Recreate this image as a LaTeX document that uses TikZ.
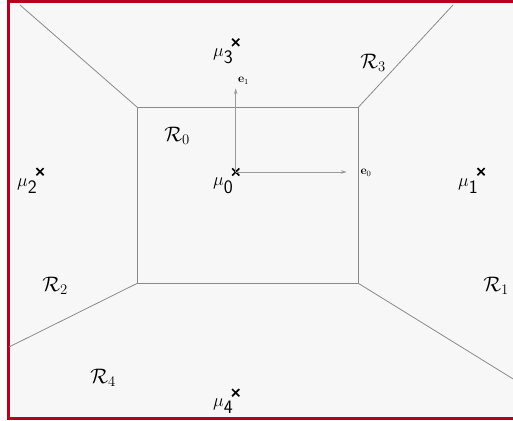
\documentclass[tikz,border=0pt]{standalone}
\usepackage{fix-cm}
\usepackage{amsmath}
\usepackage{amssymb}
\usepackage{tikz}
\usetikzlibrary{arrows.meta,positioning,shapes.misc}
\definecolor{vframe}{HTML}{B4001E}
\definecolor{vpaper}{HTML}{F7F7F7}
\definecolor{vline} {HTML}{8A8A8A}
\definecolor{vaxis} {HTML}{9A9A9A}
\newcommand{\mulab}[1]{$\mu$\kern0.3pt\raisebox{-7.5pt}{\fontsize{19}{20}\selectfont\textsf{#1}}}
\newcommand{\reglab}[1]{$\mathcal{R}_{#1}$}
\tikzset{
  vcell/.style={draw=vline, line width=0.8pt},
  vmark/.style={cross out, draw=black, line width=1.7pt, minimum size=5.5pt, inner sep=0pt},
  vmulabel/.style={font=\fontsize{18}{20}\selectfont, inner sep=0pt},
  vreglabel/.style={font=\fontsize{21}{24}\selectfont, inner sep=0pt},
  vaxisedge/.style={-{Stealth[length=6pt,width=3.5pt]}, draw=vaxis, line width=0.7pt},
  vaxislabel/.style={font=\fontsize{12}{13}\selectfont, inner sep=0pt},
}
\begin{document}
\begin{tikzpicture}[x=1pt,y=-1pt]
  \useasboundingbox (0,0) rectangle (513,420);
  \fill[vpaper] (8,1.5) rectangle (513,418.5);
  \draw[vframe,line width=3pt] (513,1.5) -- (8,1.5) -- (8,418.5) -- (513,418.5);

  % central cell and the four outer borders
  \coordinate (ctl) at (137.3,107.3);
  \coordinate (ctr) at (358.3,107.3);
  \coordinate (cbr) at (358.3,283.3);
  \coordinate (cbl) at (137.3,283.3);
  \coordinate (otl) at (20,5);
  \coordinate (otr) at (453,5);
  \coordinate (obr) at (514,379.5);
  \coordinate (obl) at (9,347);
  \draw[vcell] (ctl) -- (ctr) -- (cbr) -- (cbl) -- cycle;
  \draw[vcell] (ctl) -- (otl);
  \draw[vcell] (ctr) -- (otr);
  \draw[vcell] (cbr) -- (obr);
  \draw[vcell] (cbl) -- (obl);

  % centres
  \node[vmark] (m0) at (235.7,172) {};
  \node[vmark] (m1) at (481,171.7) {};
  \node[vmark] (m2) at (40,171.7) {};
  \node[vmark] (m3) at (235.7,42.3) {};
  \node[vmark] (m4) at (235.7,392.7) {};
  \node[vmulabel] at (223,186) {\mulab{0}};
  \node[vmulabel] at (468,186) {\mulab{1}};
  \node[vmulabel] at (27,186) {\mulab{2}};
  \node[vmulabel] at (223,56.5) {\mulab{3}};
  \node[vmulabel] at (223,406) {\mulab{4}};

  % basis vectors
  \coordinate (e0end) at (346.7,172);
  \coordinate (e1end) at (235.7,88.3);
  \draw[vaxisedge] (m0.center) -- (e0end);
  \draw[vaxisedge] (m0.center) -- (e1end);
  \node[vaxislabel] (e0) at (366,173) {$\mathbf{e}_0$};
  \node[vaxislabel] (e1) at (243.5,81) {$\mathbf{e}_1$};

  % regions
  \node[vreglabel] (r0) at (177,136) {\reglab{0}};
  \node[vreglabel] (r1) at (496,286) {\reglab{1}};
  \node[vreglabel] (r2) at (55,286) {\reglab{2}};
  \node[vreglabel] (r3) at (373,63) {\reglab{3}};
  \node[vreglabel] (r4) at (103,378) {\reglab{4}};
\end{tikzpicture}
\end{document}
